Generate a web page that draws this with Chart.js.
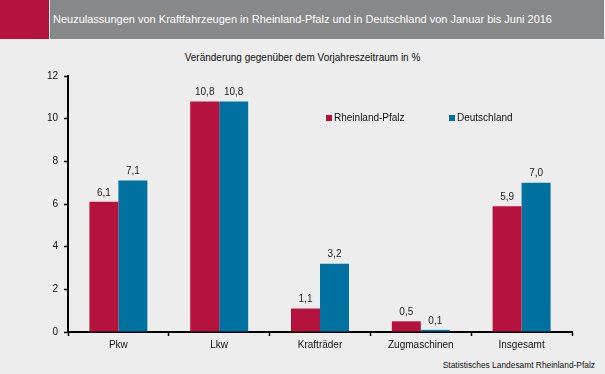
<!DOCTYPE html>
<html lang="de">
<head>
<meta charset="utf-8">
<script src="https://cdn.jsdelivr.net/npm/chart.js@4/dist/chart.umd.min.js"></script>
<style>
  body { margin:0; width:605px; height:374px; background:#ecedec; font-family:"Liberation Sans", Arial, sans-serif; position:relative; overflow:hidden; }
  #head-red { position:absolute; left:0; top:0; width:49px; height:39px; background:#b5133d; }
  #head-grey { position:absolute; left:50px; top:0; width:554px; height:39px; background:#878889; }
  #title { position:absolute; left:53px; top:0; line-height:39px; font-size:11px; color:#fff; white-space:nowrap; }
  #sub { position:absolute; left:0; width:605px; top:52px; text-align:center; font-size:10px; color:#111; }
  #source { position:absolute; right:10px; top:360px; font-size:8.4px; color:#111; }
  #wrap { position:absolute; left:0; top:0; width:605px; height:374px; }
</style>
</head>
<body>
<div id="head-red"></div>
<div id="head-grey"></div>
<div id="title">Neuzulassungen von Kraftfahrzeugen in Rheinland-Pfalz und in Deutschland von Januar bis Juni 2016</div>
<div id="sub">Veränderung gegenüber dem Vorjahreszeitraum in %</div>
<div id="source">Statistisches Landesamt Rheinland-Pfalz</div>
<div id="wrap"><canvas id="stage"></canvas></div>
<script>
// Daten
const kategorien = ['Pkw', 'Lkw', 'Krafträder', 'Zugmaschinen', 'Insgesamt'];
const rlp = [6.1, 10.8, 1.1, 0.5, 5.9];
const deutschland = [7.1, 10.8, 3.2, 0.1, 7.0];
const yTicks = [0, 2, 4, 6, 8, 10, 12];

const rot = '#b5133d';
const blau = '#0071a1';
const schrift = '"Liberation Sans", Arial, sans-serif';

// Werte über den Balken
const wertePlugin = {
  id: 'werte',
  afterDatasetsDraw(chart){
    const ctx = chart.ctx;
    ctx.save();
    ctx.font = '10px ' + schrift;
    ctx.fillStyle = '#222';
    ctx.textAlign = 'center';
    ctx.textBaseline = 'bottom';
    chart.data.datasets.forEach((ds, i) => {
      chart.getDatasetMeta(i).data.forEach((bar, j) => {
        ctx.fillText(ds.data[j].toFixed(1).replace('.', ','), bar.x, bar.y - 4);
      });
    });
    ctx.restore();
  }
};

// Legende im Diagramm
const legendePlugin = {
  id: 'legende',
  afterDraw(chart){
    const ctx = chart.ctx;
    const pos = [[326, 118], [449, 118]];
    ctx.save();
    ctx.font = '10px ' + schrift;
    ctx.textBaseline = 'middle';
    chart.data.datasets.forEach((ds, i) => {
      ctx.fillStyle = ds.backgroundColor;
      ctx.fillRect(pos[i][0], pos[i][1] - 3, 6, 6);
      ctx.fillStyle = '#111';
      ctx.fillText(ds.label, pos[i][0] + 8, pos[i][1]);
    });
    ctx.restore();
  }
};

new Chart(document.getElementById('stage'), {
  type: 'bar',
  data: {
    labels: kategorien,
    datasets: [{
      label: 'Rheinland-Pfalz',
      data: rlp,
      backgroundColor: rot
    },{
      label: 'Deutschland',
      data: deutschland,
      backgroundColor: blau
    }]
  },
  options: {
    responsive: true,
    maintainAspectRatio: false,
    animation: false,
    categoryPercentage: 0.575,
    barPercentage: 1,
    layout: { padding: { top: 76, left: 0, right: 33, bottom: 0 } },
    plugins: {
      legend: { display: false },
      tooltip: { enabled: false }
    },
    scales: {
      x: {
        grid: { drawOnChartArea: false, drawTicks: true, tickLength: 4, tickColor: '#000', tickWidth: 1.5 },
        border: { color: '#000', width: 2 },
        ticks: { color: '#111', padding: 3, font: { family: schrift, size: 10 } },
        afterFit(s){ s.height = 42; }
      },
      y: {
        min: 0,
        max: 12,
        afterBuildTicks(s){ s.ticks = yTicks.map(v => ({ value: v })); },
        grid: { drawOnChartArea: false, drawTicks: true, tickLength: 4, tickColor: '#000', tickWidth: 1.5 },
        border: { color: '#000', width: 2 },
        ticks: { color: '#111', padding: 6, font: { family: schrift, size: 10 } },
        afterFit(s){ s.width = 68; }
      }
    }
  },
  plugins: [wertePlugin, legendePlugin]
});
</script>
</body>
</html>
